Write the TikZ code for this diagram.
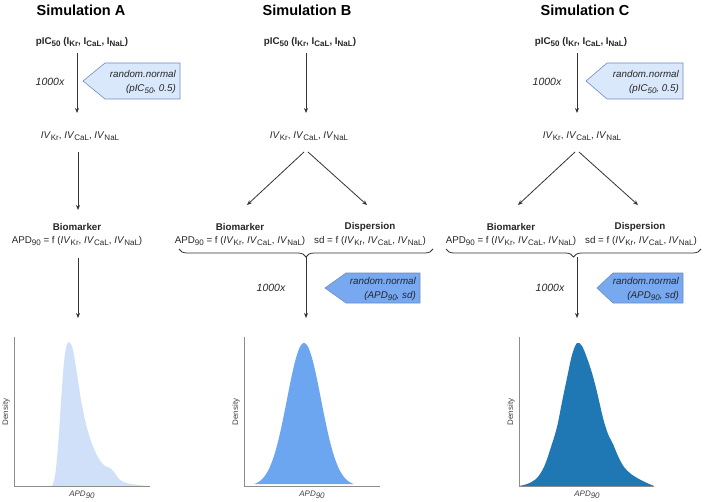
\documentclass[tikz,border=0pt]{standalone}
\usepackage{fontspec}
\setmainfont{Liberation Sans}
\usetikzlibrary{arrows.meta,decorations.pathreplacing,calc}
\definecolor{lbfill}{HTML}{DAE8FC}
\definecolor{lbdraw}{HTML}{6C8EBF}
\definecolor{mbfill}{HTML}{78A8F0}
\definecolor{mbdraw}{HTML}{6C8EBF}
\definecolor{plotA}{HTML}{CFE0F8}
\definecolor{plotB}{HTML}{6DA6F0}
\definecolor{plotC}{HTML}{1F77B4}
\definecolor{lnc}{HTML}{333333}
\definecolor{axc}{HTML}{8C8C8C}
\newcommand{\lo}[1]{\raisebox{-0.45ex}{\fontsize{8}{8}\selectfont #1}}
\newcommand{\ivs}{\textit{IV}\lo{Kr}, \textit{IV}\lo{CaL}, \textit{IV}\lo{NaL}}
\newcommand{\picline}{\textbf{pIC\lo{50} (I\lo{Kr}, I\lo{CaL}, I\lo{NaL})}}
\begin{document}
\begin{tikzpicture}[x=1pt,y=-1pt,
  titlef/.style={font=\fontsize{14.5}{17}\selectfont\bfseries, inner sep=0},
  txt/.style={font=\fontsize{9.8}{11}\selectfont, inner sep=0, text=black!85},
  rep/.style={font=\fontsize{10.5}{12}\selectfont\itshape, inner sep=0, text=black!85},
  boxtxt/.style={font=\fontsize{9.8}{14.5}\selectfont\itshape, inner sep=0, align=right, anchor=east, text=black!85},
  lbox/.style={fill=lbfill, draw=lbdraw, line width=0.6pt},
  mbox/.style={fill=mbfill, draw=mbdraw, line width=0.6pt},
  arr/.style={draw=lnc, line width=0.8pt, -{Stealth[length=5pt,width=4pt]}},
  ax/.style={draw=axc, line width=0.6pt},
  dens/.style={font=\fontsize{8}{9}\selectfont, inner sep=0, rotate=90, text=black!75},
  apd/.style={font=\fontsize{8}{9}\selectfont\itshape, inner sep=0, text=black!75},
  brc/.style={draw=lnc, line width=0.8pt, decorate, decoration={brace, amplitude=8pt, mirror}}
]
\useasboundingbox (0,0) rectangle (708,502);

% ---------------- Simulation A ----------------
\node[titlef] (tA) at (81,10) {Simulation A};
\node[txt] (pA) at (82,42) {\picline};
\node[rep] (kA) at (50,82) {1000x};
\draw[lbox] (180,63) -- (105,63) -- (83,81) -- (105,99) -- (180,99) -- cycle;
\node[boxtxt] (rA) at (176,82) {random.normal\\(pIC\lo{50}, 0.5)};
\node[txt] (ivA) at (80,136) {\ivs};
\node[txt] (bA) at (77,227) {\textbf{Biomarker}};
\node[txt] (fA) at (77,241) {APD\lo{90} = f (\ivs)};
\coordinate (topA) at (78,318);
\draw[arr] ($(pA)+(-5,11)$) -- ($(ivA)+(-3,-23)$);
\draw[arr] ($(ivA)+(-2,16)$) -- ($(bA)+(1,-17)$);
\draw[arr] ($(fA)+(1,17)$) -- (topA);
% plot A
\fill[plotA] plot[smooth, tension=0.55] coordinates {(52,486) (55,476) (58,447) (61,402) (64,362) (67,344) (70,343) (73,350) (77,374) (81,400) (86,424) (92,444) (99,459) (105,466) (110,468) (114,472) (119,479) (126,483) (138,485) (150,486)} -- cycle;
\draw[ax] (14,337) -- (14,486) -- (150,486);
\node[dens] (yA) at (6,412) {Density};
\node[apd] (xA) at (82,495) {APD\lo{90}};

% ---------------- Simulation B ----------------
\node[titlef] (tB) at (307,10) {Simulation B};
\node[txt] (pB) at (310,42) {\picline};
\node[txt] (ivB) at (309,136) {\ivs};
\draw[arr] ($(pB)+(-4,11)$) -- ($(ivB)+(-3,-23)$);
\node[txt] (bB) at (240,227) {\textbf{Biomarker}};
\node[txt] (fB) at (240,241) {APD\lo{90} = f (\ivs)};
\node[txt] (dB) at (370,227) {\textbf{Dispersion}};
\node[txt] (sB) at (370,241) {sd = f (\ivs)};
\draw[arr] ($(ivB)+(-5,16)$) -- ($(bB)+(7,-22)$);
\draw[arr] ($(ivB)+(-1,16)$) -- ($(dB)+(-3,-22)$);
\coordinate (brBl) at (179,249);
\coordinate (brBr) at (433,249);
\draw[brc] (brBl) -- (brBr);
\coordinate (brB) at (306,257);
\coordinate (topB) at (306,318);
\draw[arr] (brB) -- (topB);
\node[rep] (kB) at (271,288) {1000x};
\draw[mbox] (420,273) -- (346,273) -- (325,288) -- (346,303) -- (420,303) -- cycle;
\node[boxtxt] (rB) at (416,289) {random.normal\\(APD\lo{90}, sd)};
% plot B
\fill[plotB] plot[domain=254:354, samples=80, smooth] (\x, {486-143*exp(-((\x-304)*(\x-304))/578)}) -- cycle;
\draw[ax] (244,337) -- (244,486) -- (380,486);
\node[dens] (yB) at (236,412) {Density};
\node[apd] (xB) at (312,495) {APD\lo{90}};

% ---------------- Simulation C ----------------
\node[titlef] (tC) at (585,10) {Simulation C};
\node[txt] (pC) at (581,42) {\picline};
\node[rep] (kC) at (547,82) {1000x};
\draw[lbox] (683,63) -- (607,63) -- (586,81) -- (607,99) -- (683,99) -- cycle;
\node[boxtxt] (rC) at (679,82) {random.normal\\(pIC\lo{50}, 0.5)};
\node[txt] (ivC) at (582,136) {\ivs};
\draw[arr] ($(pC)+(-4,11)$) -- ($(ivC)+(-5,-23)$);
\node[txt] (bC) at (511,227) {\textbf{Biomarker}};
\node[txt] (fC) at (511,241) {APD\lo{90} = f (\ivs)};
\node[txt] (dC) at (640,227) {\textbf{Dispersion}};
\node[txt] (sC) at (641,241) {sd = f (\ivs)};
\draw[arr] ($(ivC)+(-7,16)$) -- ($(bC)+(7,-22)$);
\draw[arr] ($(ivC)+(-3,16)$) -- ($(dC)+(-2,-22)$);
\coordinate (brCl) at (446,249);
\coordinate (brCr) at (701,249);
\draw[brc] (brCl) -- (brCr);
\coordinate (brC) at (577,257);
\coordinate (topC) at (577,318);
\draw[arr] (brC) -- (topC);
\node[rep] (kC2) at (550,288) {1000x};
\draw[mbox] (683,273) -- (613,273) -- (597,288) -- (613,303) -- (683,303) -- cycle;
\node[boxtxt] (rC2) at (679,289) {random.normal\\(APD\lo{90}, sd)};
% plot C
\fill[plotC] plot[smooth, tension=0.55] coordinates {(519,486) (527,484) (536,479) (544,467) (551,447) (557,427) (562,402) (567,378) (572,355) (577,343) (582,346) (587,358) (592,373) (597,392) (603,418) (608,434) (613,444) (618,456) (624,467) (631,474) (639,479) (647,483) (654,486)} -- cycle;
\draw[ax] (519,337) -- (519,486) -- (654,486);
\node[dens] (yC) at (511,412) {Density};
\node[apd] (xC) at (587,495) {APD\lo{90}};
\end{tikzpicture}
\end{document}
